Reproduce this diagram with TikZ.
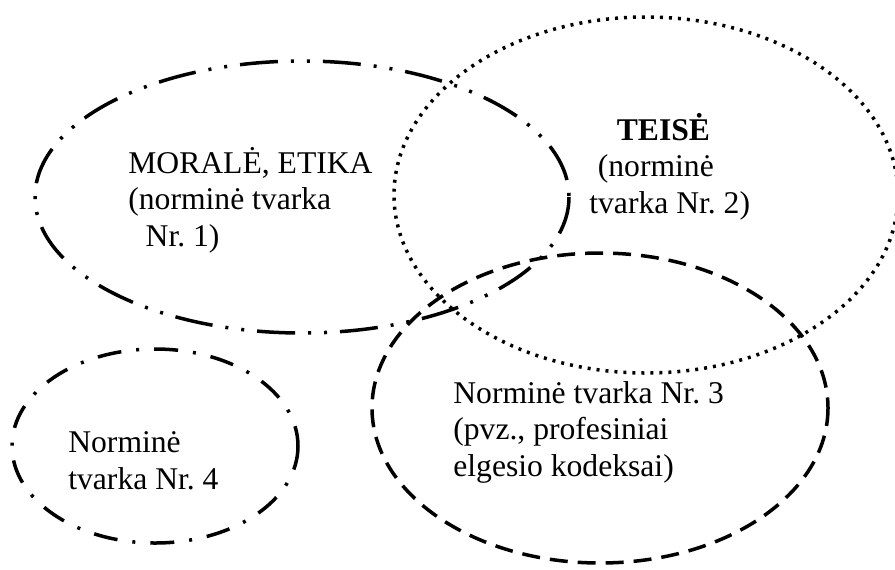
\documentclass[tikz,border=0pt]{standalone}
\usepackage{fontspec}
\setmainfont{Liberation Serif}
\frenchspacing
\begin{document}
\begin{tikzpicture}[x=0.02cm,y=-0.02cm,
	ringmoral/.style={line width=0.07cm,dash pattern=on 0.76cm off 0.26cm on 0.06cm off 0.26cm on 0.06cm off 0.26cm},
	ringteise/.style={line width=0.07cm,dash pattern=on 0.06cm off 0.12cm},
	ringthree/.style={line width=0.07cm,dash pattern=on 0.36cm off 0.2cm},
	ringfour/.style={line width=0.07cm,dash pattern=on 0.48cm off 0.3cm on 0.06cm off 0.3cm},
	lbl/.style={anchor=base west,inner sep=0pt,align=left,font=\fontsize{18}{20.5}\selectfont}]
			\useasboundingbox (0,0) rectangle (895,569);
			\draw[ringmoral](302,197)ellipse[x radius=267,y radius=136];
			\draw[ringteise](646,195)ellipse[x radius=252,y radius=178];
			\draw[ringthree](600,408)ellipse[x radius=228,y radius=155];
			\draw[ringfour](155,446)ellipse[x radius=143,y radius=97];
			% base west = baseline of the last line
			\node[lbl] (moral) at (128,246) {MORALĖ, ETIKA\\(norminė tvarka\\\hspace*{0.55em}Nr. 1)};
			\node[lbl] (teise) at (589,213) {\hspace*{0.87em}\textbf{TEISĖ}\\\hspace*{0.27em}(norminė\\tvarka Nr. 2)};
			\node[lbl] (tvarka3) at (453,476) {Norminė tvarka Nr. 3\\(pvz., profesiniai\\elgesio kodeksai)};
			\node[lbl] (tvarka4) at (68,489) {Norminė\\tvarka Nr. 4};
		\end{tikzpicture}
\end{document}
